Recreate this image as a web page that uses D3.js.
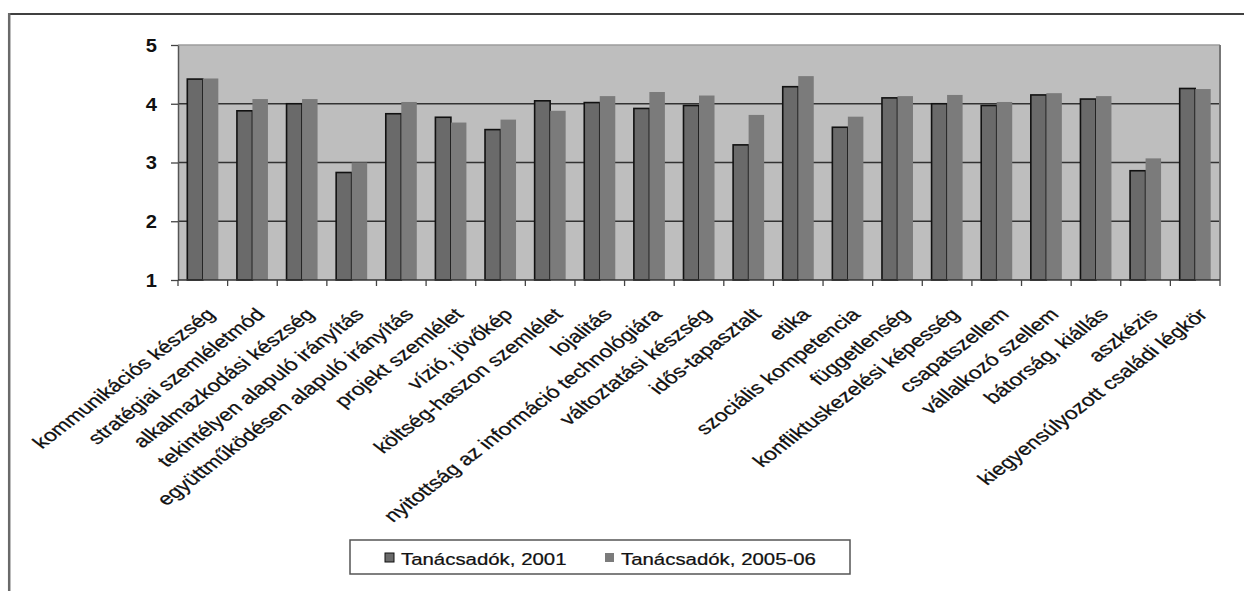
<!DOCTYPE html>
<html>
<head>
<meta charset="utf-8">
<script src="https://cdn.jsdelivr.net/npm/d3@7"></script>
<style>
  html, body { margin: 0; padding: 0; background: #fff; }
  svg { display: block; }
  text { font-family: "Liberation Sans", Arial, sans-serif; fill: #111; }
</style>
</head>
<body>
<svg id="chart" width="1244" height="591"></svg>
<script>
// Competency ratings of consultants, two survey waves
const categories = [
  "kommunikációs készség",
  "stratégiai szemléletmód",
  "alkalmazkodási készség",
  "tekintélyen alapuló irányítás",
  "együttműködésen alapuló irányítás",
  "projekt szemlélet",
  "vízió, jövőkép",
  "költség-haszon szemlélet",
  "lojalitás",
  "nyitottság az információ technológiára",
  "változtatási készség",
  "idős-tapasztalt",
  "etika",
  "szociális kompetencia",
  "függetlenség",
  "konfliktuskezelési képesség",
  "csapatszellem",
  "vállalkozó szellem",
  "bátorság, kiállás",
  "aszkézis",
  "kiegyensúlyozott családi légkör"
];
const series = ["Tanácsadók, 2001", "Tanácsadók, 2005-06"];
const values2001 = [4.42, 3.88, 4.00, 2.83, 3.83, 3.77, 3.56, 4.05, 4.02, 3.92, 3.97,
                    3.30, 4.29, 3.60, 4.10, 4.00, 3.97, 4.15, 4.08, 2.86, 4.26];
const values2005 = [4.43, 4.08, 4.08, 3.00, 4.03, 3.68, 3.73, 3.88, 4.13, 4.20, 4.14,
                    3.81, 4.47, 3.78, 4.13, 4.15, 4.03, 4.18, 4.13, 3.07, 4.25];
const yTicks = [1, 2, 3, 4, 5];

const seriesValues = [values2001, values2005];
const seriesFill = ["#6a6a6a", "#7b7b7b"];

const svg = d3.select("#chart");

// outer frame (top and left edges)
svg.append("line").attr("x1", 8).attr("x2", 1244).attr("y1", 14).attr("y2", 14)
  .attr("stroke", "#000").attr("stroke-width", 1.6);
svg.append("line").attr("x1", 9.2).attr("x2", 9.2).attr("y1", 13).attr("y2", 591)
  .attr("stroke", "#6a6a6a").attr("stroke-width", 2.5);

const plot = { left: 178, right: 1220, top: 45, bottom: 280 };

const x = d3.scaleBand().domain(categories).range([plot.left, plot.right]).padding(0);
const xs = d3.scaleBand().domain(series).range([0, x.bandwidth()])
  .paddingInner(0).paddingOuter(0.6);
const y = d3.scaleLinear().domain([1, 5]).range([plot.bottom, plot.top]);

// plot background
svg.append("rect")
  .attr("x", plot.left).attr("y", plot.top)
  .attr("width", plot.right - plot.left).attr("height", plot.bottom - plot.top)
  .attr("fill", "#bebebe");

// horizontal gridlines
svg.append("g").selectAll("line")
  .data(yTicks.filter(v => v > 1 && v < 5))
  .join("line")
  .attr("x1", plot.left).attr("x2", plot.right)
  .attr("y1", d => y(d)).attr("y2", d => y(d))
  .attr("stroke", "#333").attr("stroke-width", 1.5);

// plot border: top light, right darker
svg.append("line").attr("x1", plot.left).attr("x2", plot.right)
  .attr("y1", plot.top).attr("y2", plot.top)
  .attr("stroke", "#9c9c9c").attr("stroke-width", 1.5);
svg.append("line").attr("x1", plot.right).attr("x2", plot.right)
  .attr("y1", plot.top).attr("y2", plot.bottom)
  .attr("stroke", "#777").attr("stroke-width", 2);

// bars
const groups = svg.append("g").selectAll("g")
  .data(categories)
  .join("g")
  .attr("transform", d => `translate(${x(d)},0)`);

series.forEach((s, si) => {
  groups.append("rect")
    .attr("x", xs(s))
    .attr("y", (d, i) => y(seriesValues[si][i]))
    .attr("width", xs.bandwidth())
    .attr("height", (d, i) => y(1) - y(seriesValues[si][i]))
    .attr("fill", seriesFill[si])
    .attr("stroke", si === 0 ? "#111" : "none")
    .attr("stroke-width", si === 0 ? 1.6 : 0);
});

// y axis
const yAxis = svg.append("g")
  .attr("transform", `translate(${plot.left},0)`)
  .call(d3.axisLeft(y).tickValues(yTicks).tickSize(7).tickSizeOuter(0).tickFormat(d3.format("d")));
yAxis.select(".domain").attr("stroke", "#555").attr("stroke-width", 1.5);
yAxis.selectAll(".tick line").attr("stroke", "#444").attr("stroke-width", 1.3);
yAxis.selectAll(".tick text")
  .attr("x", 0).attr("dy", "0.36em")
  .attr("transform", "translate(-21,0) scale(1.15,1)")
  .attr("text-anchor", "end")
  .style("font-size", "17.5px").style("font-weight", "bold").style("fill", "#111");

// x axis baseline and band-boundary ticks
svg.append("line").attr("x1", plot.left).attr("x2", plot.right)
  .attr("y1", plot.bottom).attr("y2", plot.bottom)
  .attr("stroke", "#333").attr("stroke-width", 1.6);
const bounds = categories.map(c => x(c)).concat([plot.right]);
svg.append("g").selectAll("line")
  .data(bounds)
  .join("line")
  .attr("x1", d => d).attr("x2", d => d)
  .attr("y1", plot.bottom).attr("y2", plot.bottom + 6)
  .attr("stroke", "#444").attr("stroke-width", 1.3);

// category labels, slanted and slightly widened
const xAxis = svg.append("g")
  .attr("transform", `translate(0,${plot.bottom})`)
  .call(d3.axisBottom(x).tickSize(0).tickSizeOuter(0));
xAxis.select(".domain").remove();
xAxis.selectAll(".tick text")
  .attr("x", 0).attr("y", 0).attr("dy", 0)
  .attr("text-anchor", "end")
  .attr("transform", "translate(13.5,35.5) scale(1.3,1) rotate(-45)")
  .style("font-size", "17.5px").style("fill", "#111")
  .style("stroke", "#111").style("stroke-width", 0.25);

// legend
const legend = svg.append("g");
legend.append("rect")
  .attr("x", 350).attr("y", 540).attr("width", 500).attr("height", 34)
  .attr("fill", "#fff").attr("stroke", "#555").attr("stroke-width", 1.5);
const legendX = [385, 605];
series.forEach((s, si) => {
  legend.append("rect")
    .attr("x", legendX[si]).attr("y", 553)
    .attr("width", 9).attr("height", 9)
    .attr("fill", seriesFill[si])
    .attr("stroke", si === 0 ? "#111" : "none").attr("stroke-width", 1);
  legend.append("text")
    .attr("transform", `translate(${legendX[si] + 16},564.5) scale(1.2,1)`)
    .style("font-size", "17px")
    .style("stroke", "#111").style("stroke-width", 0.25)
    .text(s);
});
</script>
</body>
</html>
